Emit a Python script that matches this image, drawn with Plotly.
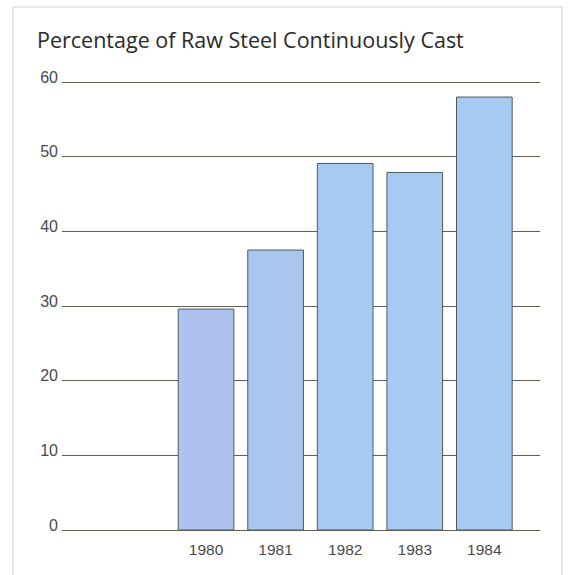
import plotly.graph_objects as go

years = ["1980", "1981", "1982", "1983", "1984"]
values = [29.6, 37.5, 49.1, 47.9, 58.0]
bar_colors = ["#adc3ee", "#a9c6f0", "#a7caf3", "#a7caf3", "#a7caf3"]
y_ticks = [0, 10, 20, 30, 40, 50, 60]
title_text = "Percentage of Raw Steel Continuously Cast"

W, H = 568, 575
L, R, T, B = 62, 28, 81, 45
pw, ph = W - L - R, H - T - B

fig = go.Figure(go.Bar(
    x=years, y=values,
    marker=dict(color=bar_colors, line=dict(color="#4d5a5e", width=1)),
    width=0.8,
))

fig.update_layout(
    width=W, height=H,
    margin=dict(l=L, r=R, t=T, b=B),
    paper_bgcolor="white", plot_bgcolor="white",
    showlegend=False,
    title=dict(text=title_text, xref="container", yref="container",
               x=37 / W, xanchor="left", y=1 - 40 / H, yanchor="middle",
               font=dict(family="Open Sans", size=21.5, color="#2a2a2a")),
    xaxis=dict(type="category", range=[-2.07, 4.8], showgrid=False, showline=False,
               ticks="", tickfont=dict(family="Liberation Sans", size=15.5, color="#4a4a4a"),
               ticklabelstandoff=8, fixedrange=True),
    yaxis=dict(range=[0, 60.15], tickvals=y_ticks, showgrid=True, gridcolor="#5e5f55",
               gridwidth=1, zeroline=True, zerolinecolor="#5e5f55", zerolinewidth=1,
               showline=False, ticks="", ticklabelshift=-5,
               tickfont=dict(family="Liberation Sans", size=16, color="#4a4a4a"),
               ticklabelstandoff=3, fixedrange=True),
    shapes=[dict(type="rect", xref="paper", yref="paper",
                 x0=(13 - L) / pw, x1=(562 - L) / pw,
                 y0=(H - T - 590) / ph, y1=(ph + T - 7) / ph,
                 line=dict(color="#e4dfda", width=1.5), layer="below")],
)

fig.write_html("out.html")
